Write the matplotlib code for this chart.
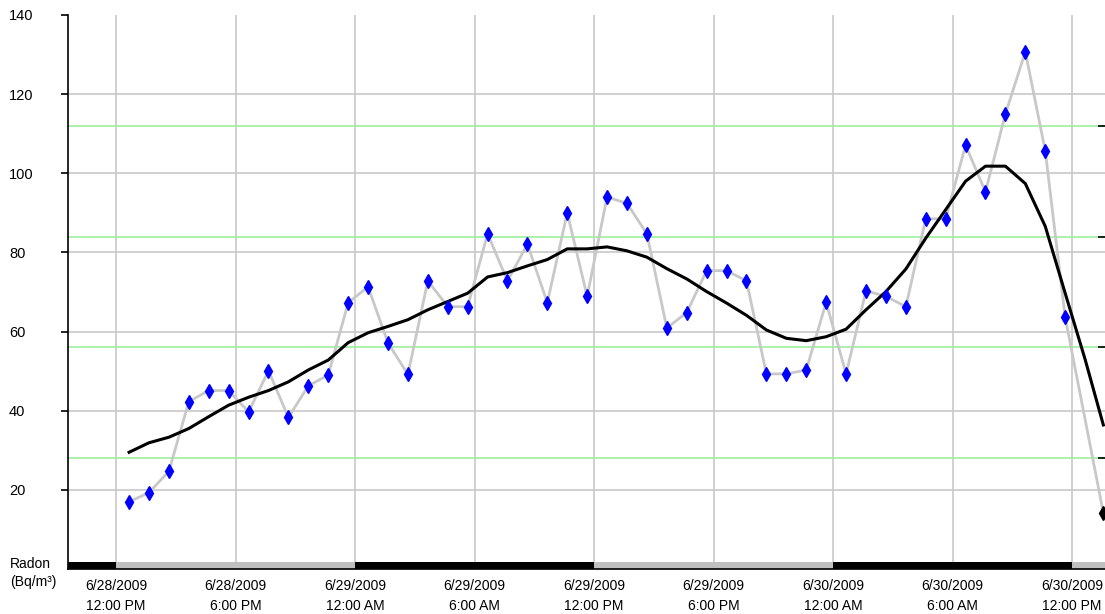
import datetime as dt
import matplotlib
matplotlib.use("Agg")
import matplotlib.pyplot as plt
import matplotlib.dates as mdates
import matplotlib.transforms as mtransforms
from matplotlib.ticker import FuncFormatter

# Hourly radon readings (Bq/m³)
radon = [17.0, 19.3, 24.7, 42.3, 45.1, 45.1, 39.7, 50.1, 38.3, 46.3, 49.0, 67.3,
         71.3, 57.1, 49.2, 72.8, 66.3, 66.3, 84.7, 72.8, 82.1, 67.3, 90.0, 68.9,
         94.0, 92.4, 84.7, 60.9, 64.8, 75.4, 75.4, 72.8, 49.3, 49.3, 50.3, 67.4,
         49.3, 70.3, 68.9, 66.3, 88.5, 88.5, 107.1, 95.3, 115.0, 130.7, 105.7, 63.6]
last_value = 14.2
# Smoothed trend
trend = [29.5, 31.9, 33.3, 35.5, 38.5, 41.4, 43.4, 45.1, 47.3, 50.3, 52.8, 57.2,
         59.7, 61.3, 63.0, 65.5, 67.6, 69.7, 73.8, 74.9, 76.6, 78.2, 80.9, 80.9,
         81.4, 80.4, 78.8, 75.9, 73.3, 70.1, 67.2, 64.1, 60.4, 58.3, 57.7, 58.7,
         60.6, 65.5, 70.1, 75.8, 83.6, 90.8, 98.0, 101.8, 101.8, 97.4, 86.6, 69.7,
         53.0, 36.4]
# Reference levels
levels = [28, 56, 84, 112]
y_ticks = [20, 40, 60, 80, 100, 120, 140]

first_time = dt.datetime(2009, 6, 28, 12, 39)
last_time = dt.datetime(2009, 6, 30, 13, 34)
times = [first_time + dt.timedelta(hours=i) for i in range(len(radon))]
trend_times = [first_time + dt.timedelta(hours=i) for i in range(len(trend) - 1)] + [last_time]
x_start = dt.datetime(2009, 6, 28, 9, 35)
x_end = dt.datetime(2009, 6, 30, 13, 39)

# Day/night strip along the bottom
band_edges = [x_start, dt.datetime(2009, 6, 28, 12), dt.datetime(2009, 6, 29, 0),
              dt.datetime(2009, 6, 29, 12), dt.datetime(2009, 6, 30, 0),
              dt.datetime(2009, 6, 30, 12), x_end]
band_colors = ["#000000", "#c0c0c0", "#000000", "#c0c0c0", "#000000", "#c0c0c0"]

plt.rcParams["font.family"] = ["Liberation Sans", "DejaVu Sans"]

fig = plt.figure(figsize=(11.05, 6.14), dpi=100)
ax = fig.add_axes([68 / 1105, 45 / 614, 1 - 68 / 1105, 554 / 614])

grid_c = "#c8c8c8"
ax.set_xlim(x_start, x_end)
ax.set_ylim(0, 140)

for yv in y_ticks[:-1]:
    ax.axhline(yv, color=grid_c, lw=1.2, zorder=1)
ax.xaxis.set_major_locator(mdates.HourLocator(byhour=[0, 6, 12, 18]))
ax.grid(axis="x", color=grid_c, lw=1.2, zorder=1)
ax.set_axisbelow(True)
for lv in levels:
    ax.axhline(lv, color="#9cf09c", lw=1.2, zorder=1.5)

ax.plot(times + [last_time], radon + [last_value], color="#c8c8c8", lw=2, zorder=2)
ax.plot(trend_times, trend, color="black", lw=2.2, zorder=3, solid_joinstyle="round")
ax.plot(times, radon, ls="none", marker="d", ms=7, color="#0000ff", mec="#0000ff", zorder=4)
ax.plot([last_time], [last_value], ls="none", marker="d", ms=7, color="black", zorder=4,
        clip_on=False)

trans = mtransforms.blended_transform_factory(ax.transData, ax.transAxes)
for i, c in enumerate(band_colors):
    ax.fill_between([band_edges[i], band_edges[i + 1]], 0, 7 / 554, color=c,
                    transform=trans, zorder=5, lw=0)
ax.plot([x_start, x_end], [0, 0], color="black", lw=1.2, transform=trans, zorder=6,
        clip_on=False)


def fmt_date(v, pos):
    d = mdates.num2date(v)
    h = d.hour % 12 or 12
    return f"{d.month}/{d.day}/{d.year}\n{h}:{d.minute:02d} {'AM' if d.hour < 12 else 'PM'}"


ax.xaxis.set_major_formatter(FuncFormatter(fmt_date))
ax.tick_params(axis="x", length=0, pad=7.5, labelsize=10, colors="black")
for lab in ax.get_xticklabels():
    lab.set_linespacing(1.5)

# y labels sit flush left at the figure edge
ax.set_yticks(y_ticks)
ax.tick_params(axis="y", length=5, width=1.2, pad=37.5, labelsize=10.5, direction="out")
for lab in ax.get_yticklabels():
    lab.set_horizontalalignment("left")

for s in ["top", "right", "bottom"]:
    ax.spines[s].set_visible(False)
ax.spines["left"].set_linewidth(1.2)

ax2 = ax.twinx()
ax2.set_ylim(0, 140)
ax2.set_yticks(levels)
ax2.tick_params(axis="y", direction="in", length=5, width=1.2, labelright=False)
for s in ax2.spines.values():
    s.set_visible(False)

fig.text(10 / 1105, 1 - 573 / 614, "Radon\n(Bq/m³)", ha="left", va="center",
         fontsize=10, linespacing=1.45)

fig.savefig("out.png", dpi=100, facecolor="white")
